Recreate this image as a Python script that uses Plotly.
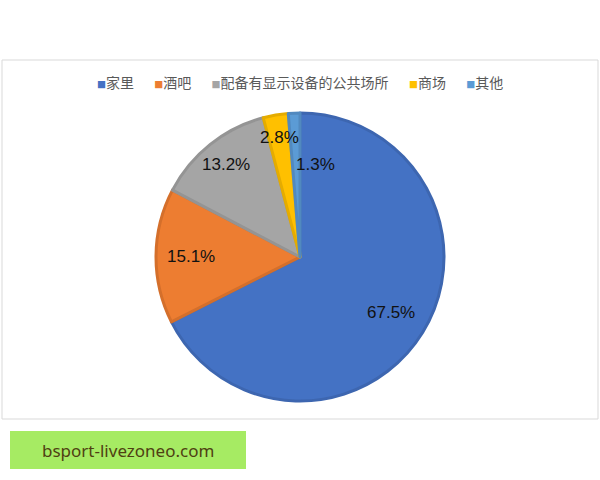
import math
import plotly.graph_objects as go

labels = ["家里", "酒吧", "配备有显示设备的公共场所", "商场", "其他"]
values = [67.5, 15.1, 13.2, 2.8, 1.3]
colors = ["#4472C4", "#ED7D31", "#A5A5A5", "#FFC000", "#5B9BD5"]
edge_colors = ["#3D66B0", "#D46F2B", "#949494", "#E5AC00", "#5189BF"]

W, H = 600, 480
cx, cy, R = 300, 257, 144

# label placement (fraction of radius, angular shift in degrees) - styling only
label_rfrac = [0.74, 0.76, 0.82, 0.84, 0.65]
label_shift = [0, 0, 0, 0, 11.6]

def px(x):
    return x / W

def py(y):
    return 1 - y / H

fig = go.Figure(go.Pie(
    labels=labels, values=values, sort=False, direction="clockwise", rotation=0,
    marker=dict(colors=colors, line=dict(color=edge_colors, width=3)),
    textinfo="none", hoverinfo="skip", showlegend=False,
    domain=dict(x=[(cx - R) / W, (cx + R) / W], y=[(H - cy - R) / H, (H - cy + R) / H]),
))

total = sum(values)
annotations = []
cum = 0.0
for v, rf, sh in zip(values, label_rfrac, label_shift):
    mid = (cum + v / 2) / total * 360 + sh
    cum += v
    th = math.radians(mid)
    x = cx + rf * R * math.sin(th)
    y = cy - rf * R * math.cos(th)
    annotations.append(dict(
        text=f"{v:.1f}%", xref="paper", yref="paper", x=px(x), y=py(y),
        showarrow=False, xanchor="center", yanchor="middle",
        font=dict(size=17, color="#111111", family="Liberation Sans, Arial, sans-serif"),
    ))

# legend line
legend_text = "\u3000\u00a0\u00a0".join(
    f"<span style='color:{c};font-size:9px'>\u25a0</span>{lab}" for lab, c in zip(labels, colors)
)
annotations.append(dict(
    text=legend_text, xref="paper", yref="paper", x=0.5, y=py(82),
    showarrow=False, xanchor="center", yanchor="middle",
    font=dict(size=14, color="#595959", family="Noto Sans CJK SC, sans-serif"),
))

annotations.append(dict(
    text="bsport-livezoneo.com", xref="paper", yref="paper", x=px(128), y=py(450),
    showarrow=False, font=dict(size=17, color="#4F4012", family="Noto Sans, sans-serif"),
    xanchor="center", yanchor="middle",
))

fig.update_layout(
    width=W, height=H, margin=dict(l=0, r=0, t=0, b=0),
    paper_bgcolor="white", plot_bgcolor="white",
    font=dict(family="Noto Sans CJK SC, Noto Sans, sans-serif", color="#595959"),
    shapes=[
        dict(type="rect", xref="paper", yref="paper", x0=px(2), x1=px(598), y0=py(60), y1=py(419),
             line=dict(color="#D9D9D9", width=1), fillcolor="rgba(0,0,0,0)", layer="below"),
        dict(type="rect", xref="paper", yref="paper", x0=px(10), x1=px(246), y0=py(431), y1=py(469),
             line=dict(width=0), fillcolor="#A6EB63", layer="below"),
    ],
    annotations=annotations,
)

fig.write_html("out.html", config={"displayModeBar": False},
               post_script="document.body.style.margin='0px';")
